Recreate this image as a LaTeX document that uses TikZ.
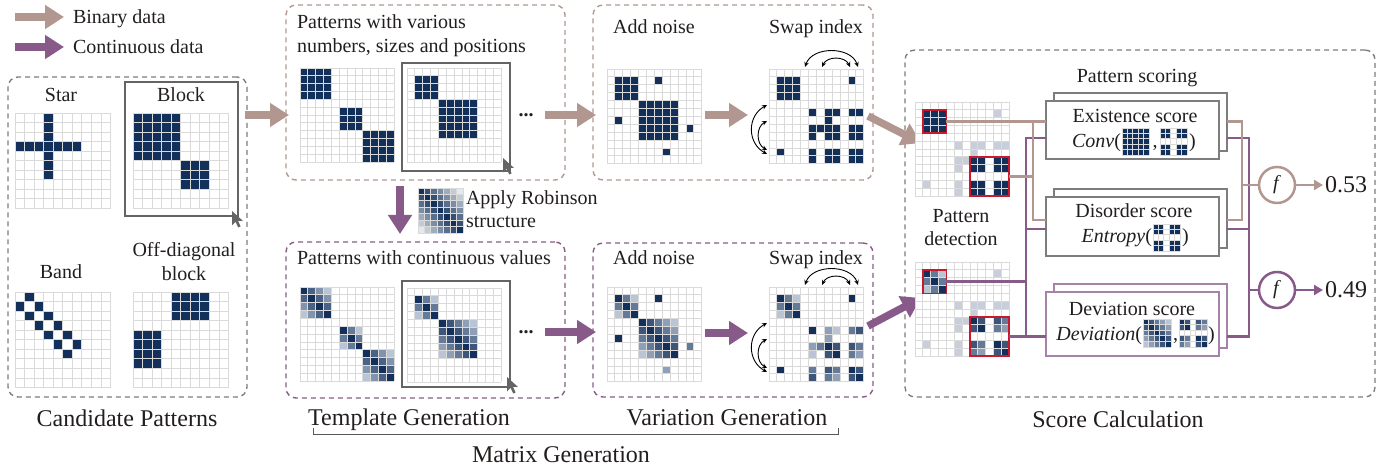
\documentclass[tikz,border=0pt]{standalone}
\usepackage{fontspec}
\setmainfont{Liberation Serif}
\usetikzlibrary{arrows.meta}
\definecolor{bin}{RGB}{178,150,144}
\definecolor{con}{RGB}{135,90,137}
\definecolor{navy}{RGB}{18,48,90}
\definecolor{rlight}{RGB}{185,196,212}
\definecolor{rvlight}{RGB}{228,233,240}
\definecolor{pgray}{RGB}{200,207,218}
\definecolor{glcol}{RGB}{218,218,218}
\definecolor{framegray}{RGB}{100,100,100}
\definecolor{boxgray}{RGB}{125,125,125}
\definecolor{redbox}{RGB}{200,25,45}
\definecolor{devpurp}{RGB}{165,130,168}
\definecolor{txt}{RGB}{35,30,30}
\colorlet{R0}{navy}
\colorlet{R1}{navy!75!rlight}
\colorlet{R2}{navy!50!rlight}
\colorlet{R3}{navy!25!rlight}
\colorlet{R4}{rlight}
\newcommand\fsn{\fontsize{20}{24}\selectfont}
\newcommand\fsl{\fontsize{24}{28}\selectfont}
\newcommand\fsv{\fontsize{24}{28}\selectfont}
\newcommand\gridstart[3]{\begin{scope}[shift={#1}]\def\gn{#2}\def\gs{#3}\fill[white] (0,0) rectangle (\gn*\gs,\gn*\gs);}
\newcommand\gridlines{\foreach \i in {0,...,\gn}{\draw[gline] (\i*\gs,0) -- (\i*\gs,\gn*\gs); \draw[gline] (0,\i*\gs) -- (\gn*\gs,\i*\gs);}}
\newcommand\gridend{\gridlines\end{scope}}
\newcommand\cf[3]{\fill[#3] (#2*\gs,#1*\gs) rectangle ++(\gs,\gs);}
\newcommand\blk[5]{\foreach \rr in {#1,...,#3}{\foreach \cc in {#2,...,#4}{\cf{\rr}{\cc}{#5}}}}
\newcommand\rob[4]{%
  \pgfmathtruncatemacro\rbre{#1+#3-1}%
  \pgfmathtruncatemacro\rbce{#2+#3-1}%
  \foreach \rr in {#1,...,\rbre}{\foreach \cc in {#2,...,\rbce}{%
    \pgfmathtruncatemacro\rbp{100-abs(\rr-\cc-#1+#2)*100/(#3-1)}%
    \cf{\rr}{\cc}{navy!\rbp!#4}}}}
\newcommand\cursor[1]{\fill[framegray, shift={#1}] (0,0) -- (0,14.5) -- (3.6,10.8) -- (6.2,16.5) -- (8.6,15.4) -- (6,9.8) -- (10.8,9.8) -- cycle;}
\newcommand\swaparcs[1]{\begin{scope}[shift={(0,#1)}]
  \coordinate (sa1) at (805,67); \coordinate (sa2) at (858,67);
  \coordinate (sa3) at (822,67); \coordinate (sa4) at (850,67);
  \coordinate (sa5) at (767,105); \coordinate (sa6) at (767,154);
  \coordinate (sa7) at (767,121); \coordinate (sa8) at (767,150);
  \draw[swaparc] (sa1) .. controls (812,46) and (851,46) .. (sa2);
  \draw[swaparc] (sa3) .. controls (827,56) and (845,56) .. (sa4);
  \draw[swaparc] (sa5) .. controls (747,116) and (747,143) .. (sa6);
  \draw[swaparc] (sa7) .. controls (756,127) and (756,144) .. (sa8);
\end{scope}}
\begin{document}
\begin{tikzpicture}[x=1pt,y=-1pt,
  every node/.style={text=txt, font=\fsn, inner sep=0pt, outer sep=0pt},
  gline/.style={draw=glcol, line width=0.9pt},
  dbox/.style={dashed, dash pattern=on 5pt off 4pt, rounded corners=10pt, line width=1.4pt, minimum width=10pt},
  bigarrow/.style={line width=7.5pt, -{Triangle[length=19pt,width=23pt]}},
  selframe/.style={draw=framegray, line width=2.4pt},
  redb/.style={draw=redbox, line width=1.8pt},
  binline/.style={draw=bin, line width=2.8pt},
  conline/.style={draw=con, line width=2.8pt},
  sbox/.style={draw=boxgray, fill=white, line width=1.3pt, minimum width=173pt},
  swaparc/.style={draw=black, line width=0.9pt, {Stealth[length=5pt,width=4.5pt]}-{Stealth[length=5pt,width=4.5pt]}},
  valarrow/.style={line width=2.5pt, -{Triangle[length=9pt,width=10pt]}, shorten >=2pt}
]
\useasboundingbox (0,0) rectangle (1396,470);

% legend
\coordinate (lb1s) at (15,17); \coordinate (lb1e) at (64,17);
\coordinate (lb2s) at (15,47); \coordinate (lb2e) at (64,47);
\draw[bigarrow, bin] (lb1s) -- (lb1e);
\draw[bigarrow, con] (lb2s) -- (lb2e);
\node[anchor=base west] (lbin) at (73,24) {Binary data};
\node[anchor=base west] (lcon) at (73,54) {Continuous data};

% dashed boxes
\node[dbox, draw=boxgray, minimum width=239pt, minimum height=320pt] (cand) at (127.5,237) {};
\node[dbox, draw=bin, minimum width=279pt, minimum height=175pt] (ttop) at (425.5,92.5) {};
\node[dbox, draw=con, minimum width=279pt, minimum height=156pt] (tbot) at (425.5,320) {};
\node[dbox, draw=bin, minimum width=280pt, minimum height=175pt] (vtop) at (733,92.5) {};
\node[dbox, draw=con, minimum width=280pt, minimum height=154pt] (vbot) at (733,320) {};
\node[dbox, draw=boxgray, minimum width=470pt, minimum height=347pt] (score) at (1140,223.5) {};

% candidate patterns
\gridstart{(15,113)}{10}{9.55}\blk{3}{0}{3}{6}{navy}\blk{0}{3}{6}{3}{navy}\gridend
\gridstart{(133,113)}{10}{9.55}\blk{0}{0}{4}{4}{navy}\blk{5}{5}{7}{7}{navy}\gridend
\gridstart{(15,292)}{10}{9.55}\foreach \pa/\pb in {0/1,1/0,1/2,2/1,2/3,3/2,3/4,4/3,4/5,5/4,5/6,6/5}{\cf{\pa}{\pb}{navy}}\gridend
\gridstart{(133,292)}{10}{9.55}\blk{0}{4}{2}{7}{navy}\blk{4}{0}{7}{2}{navy}\gridend
\node[selframe, minimum width=113pt, minimum height=134pt] (bframe) at (181.5,149) {};
\cursor{(232,211)}
\node[anchor=base] (tstar) at (61,102) {Star};
\node[anchor=base] (tblock) at (181,102) {Block};
\node[anchor=base] (tband) at (61,278) {Band};
\node[anchor=base] (toff1) at (184,257) {Off-diagonal};
\node[anchor=base] (toff2) at (184,280) {block};

% template generation
\node[anchor=base west] (tt1) at (297,29) {Patterns with various};
\node[anchor=base west] (tt2) at (297,53) {numbers, sizes and positions};
\gridstart{(300,68)}{12}{7.85}\blk{0}{0}{3}{3}{navy}\blk{5}{5}{7}{7}{navy}\blk{8}{8}{11}{11}{navy}\gridend
\gridstart{(407,68)}{12}{7.85}\blk{1}{1}{3}{3}{navy}\blk{4}{4}{8}{8}{navy}\gridend
\node[selframe, minimum width=108pt, minimum height=108pt] (tframe1) at (456,117) {};
\cursor{(503,158)}
\node (dots1) at (526,115) {\textbf{...}};

\node[anchor=base west] (tb1) at (297,265) {Patterns with continuous values};
\gridstart{(300,287)}{12}{7.85}\rob{0}{0}{4}{rlight}\rob{5}{5}{3}{rlight}\rob{8}{8}{4}{rlight}\gridend
\gridstart{(407,288)}{12}{7.85}\rob{1}{1}{3}{rlight}\rob{4}{4}{5}{rlight}\gridend
\node[selframe, minimum width=108pt, minimum height=106pt] (tframe2) at (456,334) {};
\cursor{(507,377)}
\node (dots2) at (526,332) {\textbf{...}};

% Robinson
\gridstart{(418,188)}{7}{6.43}\rob{0}{0}{7}{rvlight}\gridend
\node[anchor=base west] (rob1) at (466,205) {Apply Robinson};
\node[anchor=base west] (rob2) at (466,228) {structure};

% variation generation
\node[anchor=base] (an1) at (654,34) {Add noise};
\node[anchor=base] (sw1) at (816,34) {Swap index};
\node[anchor=base] (an2) at (654,265) {Add noise};
\node[anchor=base] (sw2) at (816,265) {Swap index};
\gridstart{(607,69)}{12}{7.9}\blk{1}{1}{3}{3}{navy}\cf{1}{6}{navy}\blk{4}{4}{8}{8}{navy}\cf{6}{1}{navy}\cf{7}{10}{navy}\cf{10}{7}{navy}\gridend
\gridstart{(769,69)}{12}{7.9}\blk{1}{1}{3}{3}{navy}%
\foreach \pa/\pb in {1/10,5/5,5/7,5/8,5/10,5/11,6/7,7/5,7/6,7/7,7/8,7/10,7/11,8/5,8/7,8/8,8/10,8/11,10/1,10/5,10/7,10/8,10/10,10/11,11/5,11/7,11/8,11/10,11/11}{\cf{\pa}{\pb}{navy}}\gridend
\gridstart{(607,287)}{12}{7.9}\rob{1}{1}{3}{rlight}\cf{1}{6}{navy}\rob{4}{4}{5}{rlight}\cf{6}{1}{navy}\cf{7}{10}{R2}\cf{10}{7}{R3}\gridend
\gridstart{(769,287)}{12}{7.9}\rob{1}{1}{3}{rlight}%
\foreach \pa/\pb/\pk in {1/10/R0,10/1/R0,6/7/R3,7/6/R2,5/5/R0,5/7/R3,5/8/R4,5/10/R2,5/11/R1,7/5/R3,7/7/R0,7/8/R1,7/10/R1,7/11/R2,8/5/R4,8/7/R1,8/8/R0,8/10/R2,8/11/R3,10/5/R2,10/7/R1,10/8/R2,10/10/R0,10/11/R1,11/5/R1,11/7/R2,11/8/R3,11/10/R1,11/11/R0}{\cf{\pa}{\pb}{\pk}}\gridend
\swaparcs{0}
\swaparcs{218}

% main arrows
\coordinate (a1s) at (245,115); \coordinate (a1e) at (289,115);
\coordinate (a2s) at (545,115); \coordinate (a2e) at (596,115);
\coordinate (a3s) at (705,115); \coordinate (a3e) at (748,115);
\coordinate (a4s) at (868,116); \coordinate (a4e) at (921,143);
\coordinate (a5s) at (400,186); \coordinate (a5e) at (400,234);
\coordinate (a6s) at (545,332); \coordinate (a6e) at (596,332);
\coordinate (a7s) at (705,333); \coordinate (a7e) at (748,333);
\coordinate (a8s) at (868,326); \coordinate (a8e) at (921,298);
\draw[bigarrow, bin] (a1s) -- (a1e);
\draw[bigarrow, bin] (a2s) -- (a2e);
\draw[bigarrow, bin] (a3s) -- (a3e);
\draw[bigarrow, bin] (a4s) -- (a4e);
\draw[bigarrow, con] (a5s) -- (a5e);
\draw[bigarrow, con] (a6s) -- (a6e);
\draw[bigarrow, con] (a7s) -- (a7e);
\draw[bigarrow, con] (a8s) -- (a8e);

% pattern detection
\gridstart{(915,102)}{12}{7.85}%
\foreach \pa/\pb in {1/10,5/5,5/7,5/8,5/10,5/11,6/7,7/5,7/6,8/5,10/1,10/5,11/5}{\cf{\pa}{\pb}{pgray}}%
\blk{1}{1}{3}{3}{navy}%
\foreach \pa/\pb in {7/7,7/8,7/10,7/11,8/7,8/8,8/10,8/11,10/7,10/8,10/10,10/11,11/7,11/8,11/10,11/11}{\cf{\pa}{\pb}{navy}}%
\gridlines
\node[redb, minimum width=3*\gs, minimum height=3*\gs] (rb1) at (2.5*\gs,2.5*\gs) {};
\node[redb, minimum width=5*\gs, minimum height=5*\gs] (rb2) at (9.5*\gs,9.5*\gs) {};
\end{scope}
\gridstart{(915,262)}{12}{7.85}%
\foreach \pa/\pb in {1/10,5/5,5/7,5/8,5/10,5/11,6/7,7/5,7/6,8/5,10/1,10/5,11/5}{\cf{\pa}{\pb}{pgray}}%
\rob{1}{1}{3}{rlight}%
\foreach \pa/\pb/\pk in {7/7/R0,7/8/R1,7/10/R1,7/11/R2,8/7/R1,8/8/R0,8/10/R2,8/11/R3,10/7/R1,10/8/R2,10/10/R0,10/11/R1,11/7/R2,11/8/R3,11/10/R1,11/11/R0}{\cf{\pa}{\pb}{\pk}}%
\gridlines
\node[redb, minimum width=3*\gs, minimum height=3*\gs] (rb3) at (2.5*\gs,2.5*\gs) {};
\node[redb, minimum width=5*\gs, minimum height=5*\gs] (rb4) at (9.5*\gs,9.5*\gs) {};
\end{scope}
\node[anchor=base] (pd1) at (961,223) {Pattern};
\node[anchor=base] (pd2) at (961,246) {detection};
\node[anchor=base] (psc) at (1137,83) {Pattern scoring};

% score boxes
\node[sbox, minimum height=58pt] (exb) at (1140.5,122) {};
\node[sbox, minimum height=58pt] (exf) at (1132.5,130) {};
\node[sbox, minimum height=59pt] (disb) at (1140.5,218.5) {};
\node[sbox, minimum height=59pt] (disf) at (1132.5,226.5) {};
\node[sbox, draw=devpurp, minimum height=64pt] (devb) at (1140.5,316) {};
\node[sbox, draw=devpurp, minimum height=64pt] (devf) at (1132.5,324) {};

\node[circle, draw=bin, fill=white, line width=2.5pt, minimum size=36pt] (fb) at (1277,185) {\textit{f}};
\node[circle, draw=con, fill=white, line width=2.5pt, minimum size=36pt] (fc) at (1277,290) {\textit{f}};
\node[anchor=west, font=\fsv] (v1) at (1325,185) {0.53};
\node[anchor=west, font=\fsv] (v2) at (1325,290) {0.49};
\draw[valarrow, bin] (fb) -- (v1);
\draw[valarrow, con] (fc) -- (v2);

\coordinate (bjl) at (1033,0); \coordinate (cjl) at (1026,0);
\coordinate (bjr) at (1242,0); \coordinate (cjr) at (1249,0);
\coordinate (yb2) at (0,220); \coordinate (yc1) at (0,138); \coordinate (yc2) at (0,229);

\draw[conline] (exf.west |- yc1) -- (cjl |- yc1) -- (cjl |- rb4.east) -- (devf.west |- rb4.east);
\draw[conline] (cjl |- yc2) -- (disf.west |- yc2);
\draw[conline] (rb3.east) -- (cjl |- rb3.east);
\draw[conline] (rb4.east) -- (cjl |- rb4.east);
\draw[conline] (exb.east |- yc1) -- (cjr |- yc1) -- (cjr |- rb4.east) -- (devb.east |- rb4.east);
\draw[conline] (disb.east |- yc2) -- (cjr |- yc2);
\draw[conline] (cjr |- fc.west) -- (fc.west);

\draw[binline] (rb1.east) -- (exf.west |- rb1.east);
\draw[binline] (bjl |- rb1.east) -- (bjl |- yb2) -- (disf.west |- yb2);
\draw[binline] (rb2.east) -- (bjl |- rb2.east);
\draw[binline] (exb.east |- rb1.east) -- (bjr |- rb1.east) -- (bjr |- yb2) -- (disb.east |- yb2);
\draw[binline] (bjr |- fb.west) -- (fb.west);

% score box texts
\node[anchor=base] (ex1) at (1135,123) {Existence score};
\node[anchor=base east] (ex2) at (1121,148) {\textit{Conv}(};
\gridstart{(1122,128)}{5}{5.4}\blk{0}{0}{4}{4}{navy}\gridend
\node[anchor=base] (ex3) at (1155,148) {,};
\gridstart{(1160,128)}{5}{5.4}\foreach \pa/\pb in {0/0,0/1,0/3,0/4,1/0,1/1,1/3,1/4,3/0,3/1,3/3,3/4,4/0,4/1,4/3,4/4}{\cf{\pa}{\pb}{navy}}\gridend
\node[anchor=base west] (ex4) at (1189,148) {)};

\node[anchor=base] (di1) at (1134,218) {Disorder score};
\node[anchor=base east] (di2) at (1152,243) {\textit{Entropy}(};
\gridstart{(1153,224)}{5}{5.4}\foreach \pa/\pb in {0/0,0/1,0/3,0/4,1/0,1/1,1/3,1/4,3/0,3/1,3/3,3/4,4/0,4/1,4/3,4/4}{\cf{\pa}{\pb}{navy}}\gridend
\node[anchor=base west] (di3) at (1182,243) {)};

\node[anchor=base] (de1) at (1132,315) {Deviation score};
\node[anchor=base east] (de2) at (1142,340) {\textit{Deviation}(};
\gridstart{(1143,319)}{5}{5.6}\rob{0}{0}{5}{rlight}\gridend
\node[anchor=base] (de3) at (1175.5,340) {,};
\gridstart{(1179,319)}{5}{5.6}\foreach \pa/\pb/\pk in {0/0/R0,0/1/R1,0/3/R1,0/4/R2,1/0/R1,1/1/R0,1/3/R2,1/4/R3,3/0/R1,3/1/R2,3/3/R0,3/4/R1,4/0/R2,4/1/R3,4/3/R1,4/4/R0}{\cf{\pa}{\pb}{\pk}}\gridend
\node[anchor=base west] (de4) at (1208,340) {)};

% section labels
\node[anchor=base, font=\fsl] (lcand) at (127,426) {Candidate Patterns};
\node[anchor=base, font=\fsl] (ltemp) at (409,425) {Template Generation};
\node[anchor=base, font=\fsl] (lvar) at (727,425) {Variation Generation};
\node[anchor=base, font=\fsl] (lmat) at (561,462) {Matrix Generation};
\node[anchor=base, font=\fsl] (lscore) at (1118,427) {Score Calculation};
\coordinate (brL) at (313,428); \coordinate (brR) at (838,428);
\draw[line width=1pt, txt!75] (brL) -- ++(0,6) -| (brR);
\end{tikzpicture}
\end{document}
